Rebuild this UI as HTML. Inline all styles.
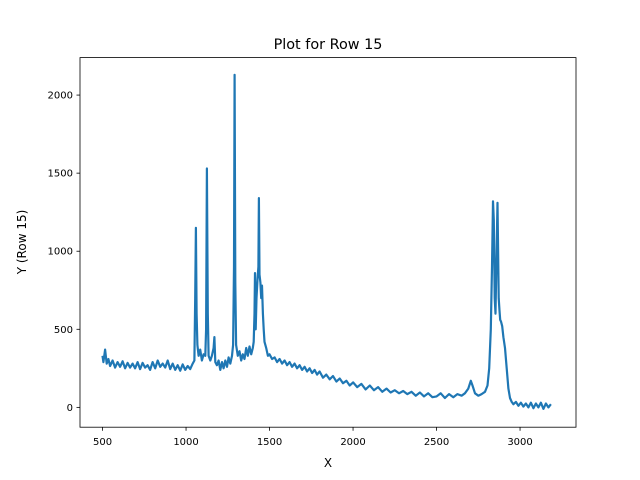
<!DOCTYPE html>
<html><head><meta charset="utf-8"><style>
body{margin:0;background:#fff;}
svg{display:block;font-family:"DejaVu Sans","Liberation Sans",sans-serif;}
</style></head><body>
<svg id="chart" width="640" height="480" viewBox="0 0 640 480" xmlns="http://www.w3.org/2000/svg">
<rect width="640" height="480" fill="#fff"/>
<text x="328" y="49" font-size="14.4" text-anchor="middle">Plot for Row 15</text>
<g id="plot"></g>
<rect x="80" y="57.6" width="496" height="369.6" fill="none" stroke="#000" stroke-width="0.8"/>
<g id="xticks"></g>
<g id="yticks"></g>
<text x="328" y="467" font-size="12" text-anchor="middle">X</text>
<text transform="translate(26,242) rotate(-90)" font-size="12" text-anchor="middle">Y (Row 15)</text>
</svg>
<script>
const xTicks=[500,1000,1500,2000,2500,3000];
const yTicks=[0,500,1000,1500,2000];
const xs=[500,505,515,525,535,545,560,575,590,605,620,635,650,665,680,695,710,725,740,755,770,785,800,815,830,845,860,875,890,905,920,935,950,965,980,995,1010,1025,1040,1050,1055,1059,1063,1068,1075,1085,1095,1105,1115,1120,1125,1130,1135,1145,1155,1165,1170,1175,1185,1195,1205,1215,1225,1235,1245,1255,1265,1275,1282,1287,1291,1295,1300,1310,1320,1330,1340,1350,1360,1370,1380,1390,1400,1405,1410,1413,1417,1422,1428,1433,1436,1440,1445,1450,1455,1460,1465,1470,1480,1490,1500,1515,1530,1545,1560,1575,1590,1605,1620,1635,1650,1665,1680,1695,1710,1725,1740,1755,1770,1785,1800,1820,1840,1860,1880,1900,1920,1940,1960,1980,2000,2025,2050,2075,2100,2125,2150,2175,2200,2225,2250,2275,2300,2325,2350,2375,2400,2425,2450,2475,2500,2525,2550,2575,2600,2625,2650,2670,2690,2705,2715,2730,2750,2770,2790,2805,2815,2825,2832,2838,2843,2848,2853,2858,2865,2872,2877,2881,2886,2893,2900,2910,2920,2930,2940,2950,2960,2975,2990,3005,3020,3035,3050,3065,3080,3095,3110,3125,3140,3155,3170,3185,3200];
const ys=[330,290,370,280,310,265,300,255,290,260,295,250,285,255,280,250,290,245,285,255,270,240,290,250,300,260,280,255,300,245,280,240,270,235,275,240,265,245,280,300,700,1150,600,400,330,370,300,340,330,500,1530,600,330,300,330,380,450,290,270,300,240,290,250,300,260,320,280,330,400,900,2130,800,400,330,360,300,340,310,380,330,390,340,380,420,600,860,500,700,820,900,1340,850,800,700,780,600,500,420,380,330,340,310,320,290,310,280,300,270,290,260,280,250,270,240,260,230,250,220,240,210,230,190,210,180,200,165,185,155,170,140,160,130,150,115,140,110,130,100,120,95,110,90,105,85,100,75,95,70,90,65,70,90,60,85,65,85,75,90,120,170,140,90,75,85,100,140,250,500,900,1320,1200,700,600,900,1310,700,620,560,550,520,450,380,250,120,60,35,20,35,10,30,5,25,0,30,-5,25,0,30,-10,25,0,20];
const X0=365,X1=3335,Y0=-127,Y1=2240;
const px=v=>80+(v-X0)/(X1-X0)*496;
const py=v=>427.2-(v-Y0)/(Y1-Y0)*369.6;
const NS='http://www.w3.org/2000/svg';
const plot=document.getElementById('plot');
let d='';
const n=Math.min(xs.length,ys.length);
for(let i=0;i<n;i++){d+=(i?'L':'M')+px(xs[i]).toFixed(1)+','+py(ys[i]).toFixed(1);}
const path=document.createElementNS(NS,'path');
path.setAttribute('d',d);path.setAttribute('fill','none');path.setAttribute('stroke','#1f77b4');
path.setAttribute('stroke-width','2.2');path.setAttribute('stroke-linejoin','round');


plot.appendChild(path);
const xg=document.getElementById('xticks');
xTicks.forEach(t=>{
  const l=document.createElementNS(NS,'line');
  l.setAttribute('x1',px(t));l.setAttribute('x2',px(t));l.setAttribute('y1',427.2);l.setAttribute('y2',430.7);l.setAttribute('stroke','#000');l.setAttribute('stroke-width','0.8');
  
  
  xg.appendChild(l);
  const tx=document.createElementNS(NS,'text');
  tx.setAttribute('x',px(t));tx.setAttribute('y',445);tx.setAttribute('font-size','10');tx.setAttribute('text-anchor','middle');tx.textContent=t;
  
  
  xg.appendChild(tx);
});
const yg=document.getElementById('yticks');
yTicks.forEach(t=>{
  const l=document.createElementNS(NS,'line');
  l.setAttribute('x1',76.5);l.setAttribute('x2',80);l.setAttribute('y1',py(t));l.setAttribute('y2',py(t));l.setAttribute('stroke','#000');l.setAttribute('stroke-width','0.8');
  
  
  yg.appendChild(l);
  const tx=document.createElementNS(NS,'text');
  tx.setAttribute('x',73);tx.setAttribute('y',py(t)+3.5);tx.setAttribute('font-size','10');tx.setAttribute('text-anchor','end');tx.textContent=t;
  
  
  yg.appendChild(tx);
});
</script>
</body></html>
